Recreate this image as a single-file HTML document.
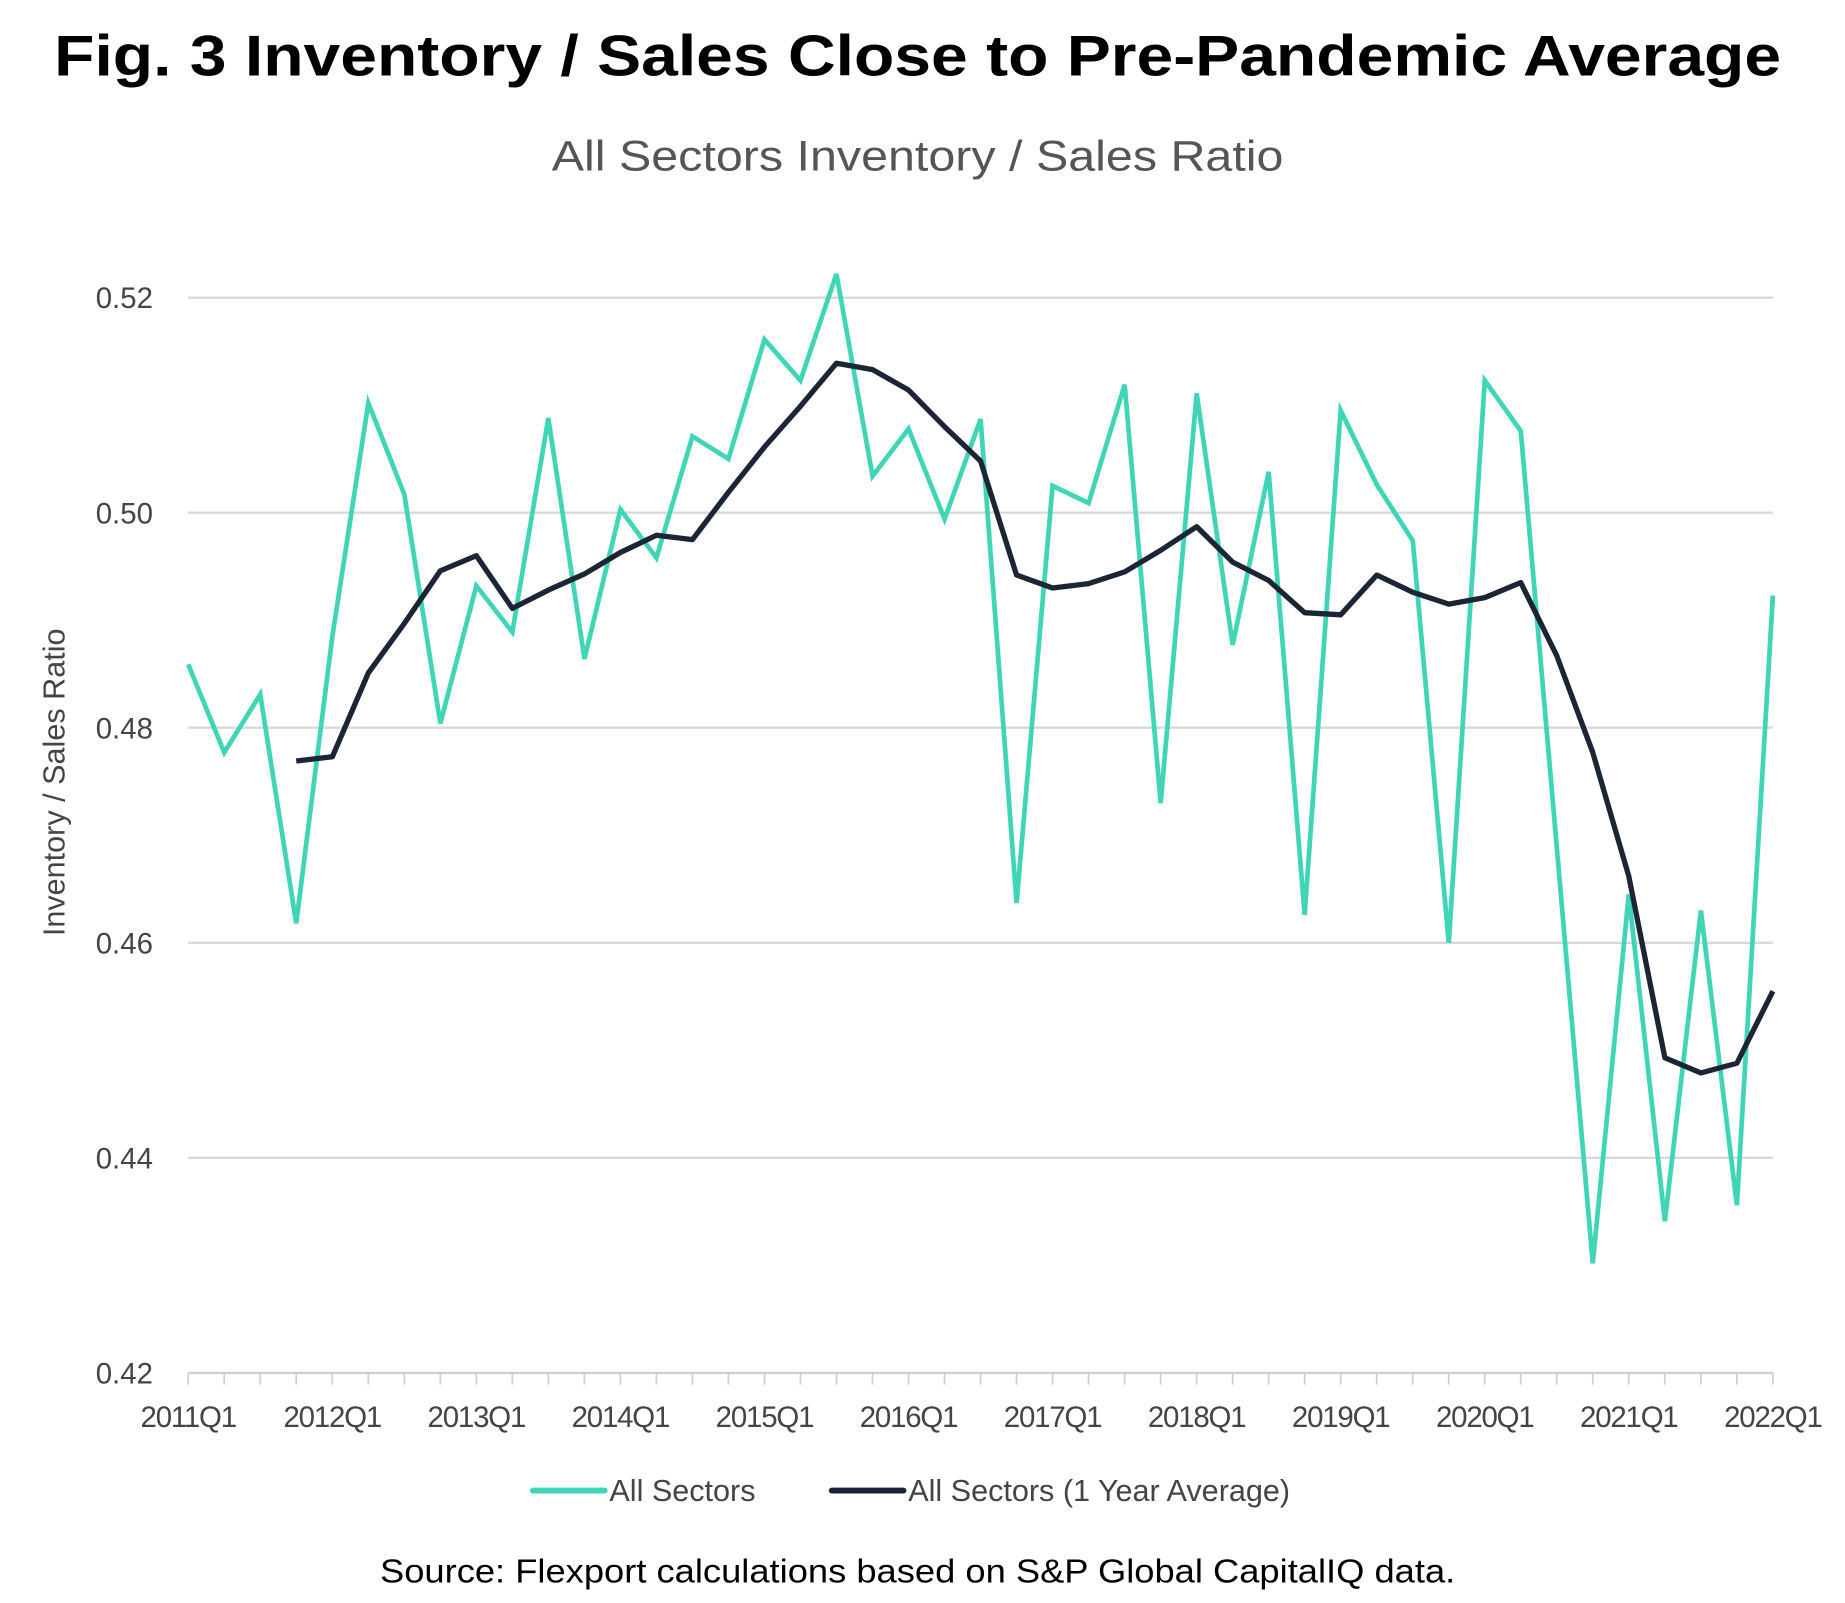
<!DOCTYPE html>
<html><head><meta charset="utf-8"><style>
html,body{margin:0;padding:0;background:#fff;}
svg{display:block;font-family:"Liberation Sans",sans-serif;}
</style></head><body>
<svg id="chart" width="1845" height="1603" viewBox="0 0 1568.3 1362.6" xmlns="http://www.w3.org/2000/svg">
<text x="780" y="64" text-anchor="middle" font-size="49" font-weight="bold" fill="#000" textLength="1468" lengthAdjust="spacingAndGlyphs">Fig. 3 Inventory / Sales Close to Pre-Pandemic Average</text>
<text x="780" y="145" text-anchor="middle" font-size="36" fill="#555" textLength="622" lengthAdjust="spacingAndGlyphs">All Sectors Inventory / Sales Ratio</text>
<text transform="translate(55,665) rotate(-90)" text-anchor="middle" font-size="26" fill="#444">Inventory / Sales Ratio</text>
<g id="grid"></g><g id="xticks"></g><g id="series"></g>
<g>
<line x1="453" y1="1267" x2="514" y2="1267" stroke="#3fd5b6" stroke-width="5" stroke-linecap="round"/>
<text x="518" y="1276" font-size="26" fill="#444">All Sectors</text>
<line x1="707" y1="1267" x2="768" y2="1267" stroke="#1b2535" stroke-width="5" stroke-linecap="round"/>
<text x="772" y="1276" font-size="26" fill="#444">All Sectors (1 Year Average)</text>
</g>
<text x="780" y="1345" text-anchor="middle" font-size="28" fill="#000" textLength="914" lengthAdjust="spacingAndGlyphs">Source: Flexport calculations based on S&amp;P Global CapitalIQ data.</text>
</svg>
<script>
const yTicks=[0.42,0.44,0.46,0.48,0.50,0.52];
const xLabels=["2011Q1","2012Q1","2013Q1","2014Q1","2015Q1","2016Q1","2017Q1","2018Q1","2019Q1","2020Q1","2021Q1","2022Q1"];
const allSectors=[0.4859,0.4777,0.4831,0.4618,0.4885,0.5102,0.5017,0.4804,0.4932,0.4889,0.5088,0.4864,0.5003,0.4958,0.5071,0.5050,0.5161,0.5123,0.5222,0.5034,0.5078,0.4994,0.5087,0.4637,0.5025,0.5009,0.5119,0.4730,0.5111,0.4877,0.5038,0.4626,0.5095,0.5026,0.4974,0.4600,0.5123,0.5076,0.4689,0.4302,0.4645,0.4341,0.4630,0.4356,0.4923];
const yearAvg=[null,null,null,0.4769,0.4773,0.4851,0.4897,0.4946,0.4960,0.4911,0.4928,0.4943,0.4963,0.4979,0.4975,0.5019,0.5061,0.5099,0.5139,0.5133,0.5114,0.5080,0.5048,0.4942,0.4930,0.4934,0.4945,0.4965,0.4987,0.4954,0.4937,0.4907,0.4905,0.4942,0.4926,0.4915,0.4921,0.4935,0.4867,0.4777,0.4662,0.4493,0.4479,0.4488,0.4555];
const NS="http://www.w3.org/2000/svg";
const L=160,R=1507,T=253,B=1167,yMin=0.42,yMax=0.52;
const n=allSectors.length;
const xs=i=>L+(R-L)*i/(n-1);
const ys=v=>B-(v-yMin)/(yMax-yMin)*(B-T);
function mk(tag,attrs,parent){const e=document.createElementNS(NS,tag);for(const k in attrs)e.setAttribute(k,attrs[k]);parent.appendChild(e);return e;}
const grid=document.getElementById('grid');
yTicks.forEach(v=>{
  const ln=mk('line',{x1:L,x2:R,y1:ys(v),y2:ys(v),stroke:v===yMin?'#d0d0d0':'#d9d9d9','stroke-width':2},grid);
  
  
  const t=mk('text',{x:130,y:ys(v)+9,'text-anchor':'end','font-size':25,fill:'#444'},grid);
  t.textContent=v.toFixed(2);
  
  
});
const xt=document.getElementById('xticks');
for(let i=0;i<n;i++){
  const tk=mk('line',{x1:xs(i),x2:xs(i),y1:B,y2:B+10,stroke:'#d0d0d0','stroke-width':1.5},xt);
  
  
}
xLabels.forEach((lab,j)=>{
  const t=mk('text',{x:xs(j*4),y:1213,'text-anchor':'middle','font-size':25,fill:'#444','letter-spacing':'-1'},xt);
  t.textContent=lab;
  
  
});
const sg=document.getElementById('series');
function path(arr){let d='';arr.forEach((v,i)=>{if(v==null)return;d+=(d?'L':'M')+xs(i).toFixed(1)+','+ys(v).toFixed(1);});return d;}
const p1=mk('path',{d:path(allSectors),fill:'none',stroke:'#3fd5b6','stroke-width':4,'stroke-linejoin':'miter'},sg);


const p2=mk('path',{d:path(yearAvg),fill:'none',stroke:'#1b2535','stroke-width':4.5,'stroke-linejoin':'round'},sg);


</script>
</body></html>
